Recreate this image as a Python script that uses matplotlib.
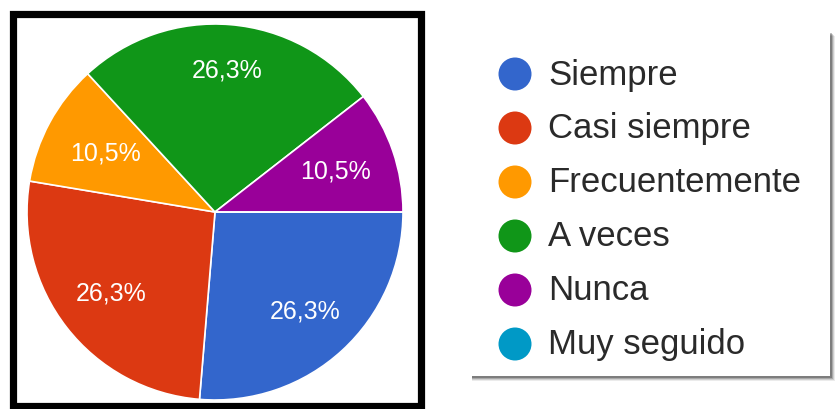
import matplotlib
matplotlib.use("Agg")
import numpy as np
import matplotlib.pyplot as plt
from matplotlib.patches import Rectangle

plt.rcParams['font.family'] = ['Liberation Sans', 'DejaVu Sans']

categories = ["Siempre", "Casi siempre", "Frecuentemente", "A veces", "Nunca", "Muy seguido"]
counts = [5, 5, 2, 5, 2, 0]
colors = ["#3366CC", "#DC3912", "#FF9900", "#109618", "#990099", "#0099C6"]

W, H = 837, 410
fig = plt.figure(figsize=(W / 100, H / 100), dpi=100)
fig.patch.set_facecolor("white")

def px(x0, y0, x1, y1):
    return [x0 / W, 1 - y1 / H, (x1 - x0) / W, (y1 - y0) / H]

# black frame around the pie
frame = Rectangle((13.5 / W, 1 - 407 / H), (421 - 13.5) / W, (407 - 15) / H,
                  transform=fig.transFigure, facecolor="none",
                  edgecolor="black", linewidth=5.2, zorder=5)
fig.patches.append(frame)

# pie
cx, cy, r = 215, 213, 188
ax = fig.add_axes(px(cx - r, cy - r, cx + r, cy + r))

def fmt(p):
    return "" if p < 0.05 else f"{p:.1f}%".replace(".", ",")

wedges, texts, autotexts = ax.pie(
    counts, colors=colors, startangle=0, counterclock=False, radius=1,
    autopct=fmt, pctdistance=0.71,
    wedgeprops=dict(edgecolor="white", linewidth=1.2),
    textprops=dict(color="white", fontsize=18))
# label radial distances as placed in the original chart
label_dist = [0.71, 0.70, 0.66, 0.76, 0.68, 0.70]
for t, d in zip(autotexts, label_dist):
    x, y = t.get_position()
    ang = np.arctan2(y, x)
    t.set_position((d * np.cos(ang), d * np.sin(ang)))
ax.set_xlim(-1, 1)
ax.set_ylim(-1, 1)
ax.set_aspect("equal")
ax.axis("off")

# legend box with shadow
lx0, ly0, lx1, ly1 = 470, 32, 830, 377
for i, a in enumerate([0.08, 0.12, 0.18, 0.25]):
    off = 5 - i
    fig.patches.append(Rectangle(((lx0 + 2) / W, 1 - (ly1 + off) / H),
                                 (lx1 - lx0 - 2 + off) / W, (ly1 - ly0) / H,
                                 transform=fig.transFigure, facecolor="black",
                                 edgecolor="none", alpha=a, zorder=1))
lax = fig.add_axes(px(lx0, ly0, lx1, ly1))
lax.set_zorder(2)
lax.set_facecolor("white")
for s in lax.spines.values():
    s.set_visible(False)
lax.set_xticks([])
lax.set_yticks([])
lax.set_xlim(lx0, lx1)
lax.set_ylim(ly1, ly0)

for i, (cat, col) in enumerate(zip(categories, colors)):
    y = 75 + i * 54
    lax.scatter([515], [y], s=(33 * 0.72) ** 2, color=col, edgecolors="none")
    lax.text(548, y, cat, fontsize=25, color="#2a2a2a", va="center", ha="left")

fig.savefig("out.png", dpi=100, facecolor="white")
